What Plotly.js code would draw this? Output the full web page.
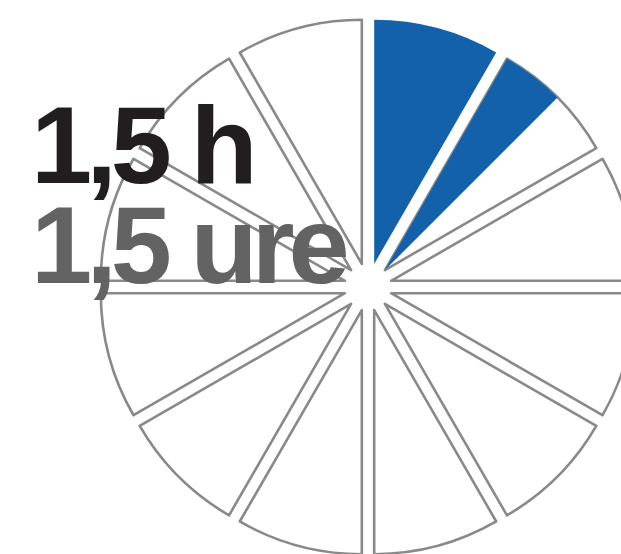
<!DOCTYPE html>
<html>
<head>
<meta charset="utf-8">
<script src="https://cdn.plot.ly/plotly-3.0.1.min.js"></script>
<style>
  html, body { margin: 0; padding: 0; overflow: hidden; background: #ffffff; }
  #chart { width: 700px; height: 560px; }
  .annotation-text { letter-spacing: -6px; }
</style>
</head>
<body>
<div id="chart"></div>
<script>
// ---- data ----
const hourLabels = ['12-1', '1-2', '2-3', '3-4', '4-5', '5-6', '6-7', '7-8', '8-9', '9-10', '10-11', '11-12'];
const hourValues = [1, 1, 1, 1, 1, 1, 1, 1, 1, 1, 1, 1];
const filledHours = 1.5;
const labelLines = ['1,5 h', '1,5 ure'];

// ---- styling ----
const BLUE = '#1361aa';
const GRAY = '#898989';
const W = 700, H = 560;
const CX = 368, CY = 287, HALF = 268;
const PULL = 0.098;

const fullHours = Math.floor(filledHours);
const partStart = fullHours;
const partFrac = filledHours - fullHours;

const baseColors = hourLabels.map((_, i) => i < fullHours ? BLUE : '#ffffff');
const baseLineColors = hourLabels.map((_, i) => i < fullHours ? BLUE : GRAY);
const baseLineWidths = hourLabels.map((_, i) => i < fullHours ? 0 : 2.6);

const domX = [(CX - HALF) / W, (CX + HALF) / W];
const domY = [1 - (CY + HALF) / H, 1 - (CY - HALF) / H];

const base = {
  type: 'pie',
  labels: hourLabels,
  values: hourValues,
  sort: false,
  direction: 'clockwise',
  rotation: 0,
  pull: hourLabels.map(() => PULL),
  marker: { colors: baseColors, line: { color: baseLineColors, width: baseLineWidths } },
  textinfo: 'none',
  hoverinfo: 'skip',
  showlegend: false,
  domain: { x: domX, y: domY }
};

// overlay for the partial hour
const ovLabels = ['a', 'b', 'c', 'd'];
const ovValues = [partStart, partFrac, 1 - partFrac, hourValues.length - partStart - 1];
const hostMid = (partStart + 0.5) * 30 * Math.PI / 180;
const partMid = (partStart + partFrac / 2) * 30 * Math.PI / 180;
const dAng = hostMid - partMid;
const rPix = HALF / (1 + PULL);
const dPix = PULL * rPix;
const pPart = PULL * Math.cos(dAng);
const resid = dPix * Math.sin(dAng);
const rdir = partMid + Math.PI / 2;
const shX = resid * Math.sin(rdir);
const shY = -resid * Math.cos(rdir); // screen down
const overlay = {
  type: 'pie',
  labels: ovLabels,
  values: ovValues,
  sort: false,
  direction: 'clockwise',
  rotation: 0,
  pull: [PULL, pPart, PULL, PULL],
  marker: { colors: ['rgba(0,0,0,0)', BLUE, 'rgba(0,0,0,0)', 'rgba(0,0,0,0)'], line: { width: 0 } },
  textinfo: 'none',
  hoverinfo: 'skip',
  showlegend: false,
  domain: { x: [domX[0] + shX / W, domX[1] + shX / W], y: [domY[0] - shY / H, domY[1] - shY / H] }
};

const layout = {
  width: W, height: H,
  margin: { l: 0, r: 0, t: 0, b: 0 },
  paper_bgcolor: '#ffffff',
  plot_bgcolor: '#ffffff',
  annotations: [
    { text: labelLines[0], xref: 'paper', yref: 'paper', x: 29 / W, y: 1 - 145 / H,
      xanchor: 'left', yanchor: 'middle', showarrow: false,
      font: { family: 'Liberation Sans, Arial, sans-serif', size: 110, weight: 700, color: '#221e1f' } },
    { text: labelLines[1], xref: 'paper', yref: 'paper', x: 29 / W, y: 1 - 244 / H,
      xanchor: 'left', yanchor: 'middle', showarrow: false,
      font: { family: 'Liberation Sans, Arial, sans-serif', size: 110, weight: 700, color: '#636363' } }
  ]
};

Plotly.newPlot('chart', [base, overlay], layout, { staticPlot: true, displayModeBar: false });
</script>
</body>
</html>
